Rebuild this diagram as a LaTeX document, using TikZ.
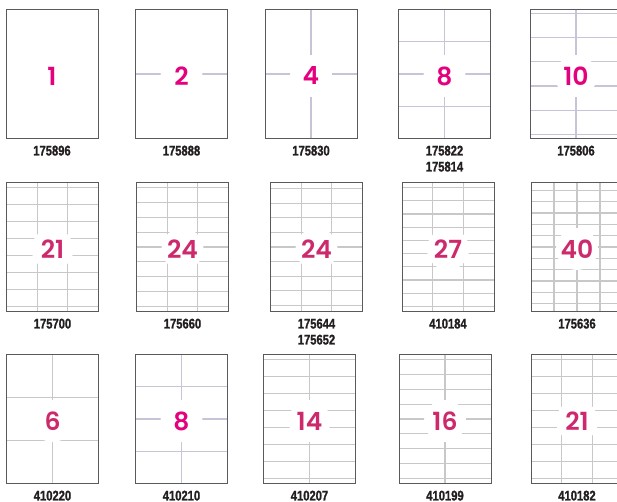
\documentclass[tikz,border=0pt]{standalone}
\usepackage{fontspec}
\usetikzlibrary{positioning}
\newfontfamily\numfont[UprightFont=* SemiBold]{Poppins}
\newfontfamily\codefont[FakeStretch=0.8,BoldFeatures={FakeBold=1.2}]{Liberation Sans}
\definecolor{pinkA}{HTML}{E5007D}
\definecolor{pinkB}{HTML}{CC2A6C}
\definecolor{gridA}{HTML}{C6C4D6}
\definecolor{gridB}{HTML}{C8C8C8}
\definecolor{edge}{HTML}{5A5A5E}
\definecolor{ink}{HTML}{231F20}
\tikzset{
sheet/.style={draw=edge,line width=1pt,minimum width=92pt,minimum height=129pt,inner sep=0pt},
num/.style={fill=white,circle,minimum size=42pt,inner sep=0pt,font=\numfont\fontsize{25}{25}\selectfont},
code/.style={font=\codefont\bfseries\fontsize{14}{16}\selectfont,text=ink,align=center,inner sep=0pt,below=6.5pt of #1},
}
\newcommand{\sheet}[8]{%
\begin{scope}[shift={(#2-46,#3-64.5)},color=grid#8,line width=1.2pt]
\foreach \r in {0,...,#5}\draw(0,{#7+(129-2*#7)*\r/#5})--++(92,0);
\ifnum#4>1 \pgfmathtruncatemacro{\lastc}{#4-1}\foreach \c in {1,...,\lastc}\draw({92*\c/#4},0)--++(0,129);\fi
\end{scope}
\node[sheet](#1)at(#2,#3){};
\node[num,text=pink#8](#1n)at(#2,#3+2){#6};}
\begin{document}
\begin{tikzpicture}[x=1pt,y=-1pt]
\useasboundingbox(0,0)rectangle(617,502);
\clip(0,0)rectangle(617,502);
\sheet{s1}{52}{74}{1}{1}{1}{0}{A}
\sheet{s2}{181.5}{74}{1}{2}{2}{0}{A}
\sheet{s4}{311}{74}{2}{2}{4}{0}{A}
\sheet{s8}{444.5}{74}{2}{4}{8}{0}{A}
\sheet{s10}{576}{74}{2}{5}{10}{4}{A}
\sheet{s21}{52.5}{247}{3}{7}{21}{5}{B}
\sheet{s24}{182.5}{247}{3}{8}{24}{5}{B}
\sheet{s24b}{316.5}{247}{3}{8}{24}{6}{B}
\sheet{s27}{448}{247}{3}{9}{27}{5}{B}
\sheet{s40}{577}{247}{4}{10}{40}{8}{B}
\sheet{s6}{52.5}{419}{2}{3}{6}{0}{B}
\sheet{s8b}{181.5}{419}{2}{4}{8}{0}{A}
\sheet{s14}{309.5}{419}{2}{7}{14}{5}{B}
\sheet{s16}{445}{419}{2}{8}{16}{5}{B}
\sheet{s21b}{577}{419}{3}{7}{21}{5}{B}
\node[code=s1](c1){175896};
\node[code=s2](c2){175888};
\node[code=s4](c4){175830};
\node[code=s8](c8){175822\\175814};
\node[code=s10](c10){175806};
\node[code=s21](c21){175700};
\node[code=s24](c24){175660};
\node[code=s24b](c24b){175644\\175652};
\node[code=s27](c27){410184};
\node[code=s40](c40){175636};
\node[code=s6](c6){410220};
\node[code=s8b](c8b){410210};
\node[code=s14](c14){410207};
\node[code=s16](c16){410199};
\node[code=s21b](c21b){410182};
\end{tikzpicture}
\end{document}
